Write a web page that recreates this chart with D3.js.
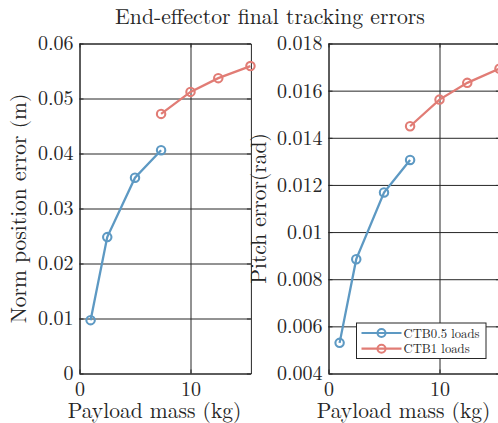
<!DOCTYPE html>
<html>
<head>
<meta charset="utf-8">
<script src="https://cdn.jsdelivr.net/npm/d3@7"></script>
<style>
  body { margin: 0; background: #fff; }
</style>
</head>
<body>
<svg id="chart" width="498" height="423"></svg>
<script>
// payload masses (kg)
var massSmall = [1, 2.5, 5, 7.35];
var massLarge = [7.35, 10, 12.5, 15.4];

// norm position error (m)
var posSmall = [0.0097, 0.0248, 0.0356, 0.0406];
var posLarge = [0.0472, 0.0512, 0.0537, 0.0559];

// pitch error (rad)
var pitchSmall = [0.0053, 0.00885, 0.01168, 0.01306];
var pitchLarge = [0.01449, 0.01562, 0.01633, 0.01693];

var seriesNames = ["CTB0.5 loads", "CTB1 loads"];
var seriesColors = ["#5d99c3", "#e17c75"];

var xTicks = [0, 10];
var posTicks = [0, 0.01, 0.02, 0.03, 0.04, 0.05, 0.06];
var pitchTicks = [0.004, 0.006, 0.008, 0.01, 0.012, 0.014, 0.016, 0.018];

var font = "'Latin Modern Roman', cursive";

var svg = d3.select("#chart");
var axW = 171.4, axH = 330;

svg.append("text")
    .attr("x", 270)
    .attr("y", 24)
    .attr("text-anchor", "middle")
    .attr("font-family", font)
    .attr("fill", "#262626")
    .style("font-size", "21.7px")
    .text("End-effector final tracking errors");

function drawPanel(left, top, small, large, yDomain, yTicks, yLabel, labelX, withLegend) {
  var x = d3.scaleLinear().domain([0, 15.44]).range([0, axW]);
  var y = d3.scaleLinear().domain(yDomain).range([axH, 0]);

  var g = svg.append("g").attr("transform", "translate(" + left + "," + top + ")");

  // grid
  g.append("g")
      .attr("class", "grid")
      .call(d3.axisLeft(y).tickValues(yTicks).tickSize(-axW).tickFormat(""))
      .call(s => s.select(".domain").remove());
  g.append("g")
      .attr("class", "grid")
      .attr("transform", "translate(0," + axH + ")")
      .call(d3.axisBottom(x).tickValues(xTicks).tickSize(-axH).tickFormat(""))
      .call(s => s.select(".domain").remove());
  g.selectAll(".grid line").attr("stroke", "#e3e3e3").attr("stroke-width", 1);

  // axes with inward ticks on all sides
  g.append("g")
      .call(d3.axisLeft(y).tickValues(yTicks).tickSize(-4).tickSizeOuter(0).tickPadding(6).tickFormat(d3.format("~g")));
  g.append("g")
      .attr("transform", "translate(" + axW + ",0)")
      .call(d3.axisRight(y).tickValues(yTicks).tickSize(-4).tickSizeOuter(0).tickFormat(""));
  g.append("g")
      .attr("transform", "translate(0," + axH + ")")
      .call(d3.axisBottom(x).tickValues(xTicks).tickSize(-4).tickSizeOuter(0).tickPadding(8).tickFormat(d3.format("~g")));
  g.append("g")
      .call(d3.axisTop(x).tickValues(xTicks).tickSize(-4).tickSizeOuter(0).tickFormat(""));
  g.selectAll(".domain, .tick line").attr("stroke", "#262626").attr("stroke-width", 1);
  g.selectAll("g").attr("font-family", font);
  g.selectAll(".tick text").style("font-size", "20px").attr("fill", "#262626");

  // lines
  var line = d3.line().x(d => x(d[0])).y(d => y(d[1]));
  [small, large].forEach(function(s, i) {
    var pts = s.mass.map((m, j) => [m, s.val[j]]);
    g.append("path")
        .datum(pts)
        .attr("d", line)
        .attr("fill", "none")
        .attr("stroke", seriesColors[i])
        .attr("stroke-width", 2.3);
    g.selectAll(".pt" + i)
        .data(pts)
        .enter().append("circle")
        .attr("cx", d => x(d[0]))
        .attr("cy", d => y(d[1]))
        .attr("r", 4.2)
        .attr("fill", "none")
        .attr("stroke", seriesColors[i])
        .attr("stroke-width", 2.1);
  });

  svg.append("text")
      .attr("transform", "translate(" + labelX + "," + (top + axH / 2) + ") rotate(-90)")
      .attr("text-anchor", "middle")
      .attr("font-family", font)
      .attr("fill", "#262626")
      .style("font-size", "21.5px")
      .text(yLabel);

  svg.append("text")
      .attr("x", left + 75)
      .attr("y", top + axH + 44.5)
      .attr("text-anchor", "middle")
      .attr("font-family", font)
      .attr("fill", "#262626")
      .style("font-size", "21.5px")
      .text("Payload mass (kg)");

  if (withLegend) {
    var lg = svg.append("g").attr("transform", "translate(356.5,323)");
    lg.append("rect")
        .attr("width", 129.5)
        .attr("height", 35.5)
        .attr("fill", "#fff")
        .attr("stroke", "#262626")
        .attr("stroke-width", 1);
    seriesNames.forEach(function(name, i) {
      var cy = 10 + i * 15.7;
      lg.append("line")
          .attr("x1", 5).attr("x2", 45)
          .attr("y1", cy).attr("y2", cy)
          .attr("stroke", seriesColors[i])
          .attr("stroke-width", 2.2);
      lg.append("circle")
          .attr("cx", 25).attr("cy", cy).attr("r", 4)
          .attr("fill", "none")
          .attr("stroke", seriesColors[i])
          .attr("stroke-width", 2);
      lg.append("text")
          .attr("x", 47)
          .attr("y", cy + 4.5)
          .attr("font-family", font)
          .attr("fill", "#262626")
          .style("font-size", "12.7px")
          .text(name);
    });
  }
}

drawPanel(79.5, 43.5, {mass: massSmall, val: posSmall}, {mass: massLarge, val: posLarge},
  [0, 0.06], posTicks, "Norm position error (m)", 26, false);
drawPanel(328.5, 43.5, {mass: massSmall, val: pitchSmall}, {mass: massLarge, val: pitchLarge},
  [0.004, 0.018], pitchTicks, "Pitch error(rad)", 265.5, true);
</script>
</body>
</html>
